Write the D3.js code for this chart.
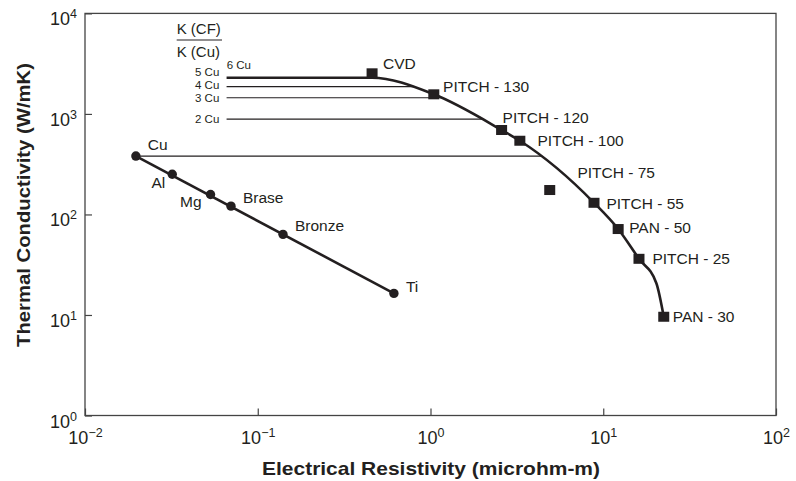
<!DOCTYPE html>
<html><head><meta charset="utf-8">
<script src="https://cdn.jsdelivr.net/npm/d3@7"></script>
<style>
html,body{margin:0;padding:0;background:#fff;}
svg text{font-family:"Liberation Sans",Arial,Helvetica,sans-serif;fill:#231f20;}
</style></head>
<body><svg id="c" width="796" height="481"></svg>
<script>
// ---- data ----
const xTicks = [1e-2, 1e-1, 1, 1e1, 1e2];
const xTickExp = ["\u22122", "\u22121", "0", "1", "2"];
const yTicks = [1, 10, 100, 1000, 10000];
const yTickExp = ["0", "1", "2", "3", "4"];

const metalNames = ["Cu", "Al", "Mg", "Brase", "Bronze", "Ti"];
const metalRho = [0.0197, 0.032, 0.0533, 0.070, 0.140, 0.614];
const metalK = [381, 251, 158, 121, 63.4, 16.4];

const cfNames = ["CVD", "PITCH - 130", "PITCH - 120", "PITCH - 100", "PITCH - 75", "PITCH - 55", "PAN - 50", "PITCH - 25", "PAN - 30"];
const cfRho = [0.459, 1.045, 2.58, 3.29, 4.90, 8.84, 12.2, 16.1, 22.4];
const cfK = [2535, 1567, 692, 541, 175, 130.6, 71.6, 36.2, 9.6];

// carbon-fibre trend curve knots
const curveRho = [0.066, 0.459, 1.045, 2.58, 3.29, 8.84, 12.2, 16.1, 20.3, 22.4];
const curveK = [2290, 2290, 1567, 692, 541, 130.6, 71.6, 36.2, 20.7, 9.6];

// multiples of copper conductivity
const multLabels = ["6 Cu", "5 Cu", "4 Cu", "3 Cu", "2 Cu"];
const multK = [2290, 2290, 1866, 1449, 889];
const refLineK = [1866, 1449, 889];
const refLineStart = 0.066;

// ---- layout / style ----
const L = 85, R = 776, T = 13.4, B = 415.5;
const svg = d3.select("#c");
const x = d3.scaleLog().domain([1e-2, 1e2]).range([L, R]);
const y = d3.scaleLog().domain([1, 1e4]).range([B, T]);
const ink = "#231f20";

const metalLabelPos = [
  {dx: 12, dy: -6, a: "start"}, {dx: -7, dy: 14, a: "end"}, {dx: -9, dy: 12.5, a: "end"},
  {dx: 12, dy: -3.5, a: "start"}, {dx: 12, dy: -3.5, a: "start"}, {dx: 12, dy: -1.5, a: "start"}];
const cfLabelPos = [
  {dx: 11, dy: -4.3}, {dx: 9.3, dy: -2.6}, {dx: 1, dy: -7.3}, {dx: 17.7, dy: 5.3},
  {dx: 27.7, dy: -12.3}, {dx: 12.4, dy: 6}, {dx: 11, dy: 4.3}, {dx: 13.4, dy: 5.6}, {dx: 9, dy: 5.6}];
const multLabelPos = [
  {x: 226.7, dy: -8.7, a: "start"}, {x: 219.3, dy: -1.4, a: "end"},
  {x: 219.3, dy: 2.6, a: "end"}, {x: 219.3, dy: 4, a: "end"}, {x: 219.3, dy: 4.3, a: "end"}];

// ---- axes ----
const gx = svg.append("g").attr("transform", `translate(0,${B})`)
  .call(d3.axisBottom(x).tickValues(xTicks).tickSizeInner(-7).tickSizeOuter(0).tickFormat(""));
gx.select(".domain").remove();
gx.selectAll(".tick line").attr("stroke", "#444").attr("stroke-width", 1.2);
gx.selectAll(".tick").each(function(d, i) {
  const t = d3.select(this).append("text").attr("y", 28).attr("text-anchor", "middle")
    .attr("font-size", 18).attr("fill", ink);
  t.append("tspan").text("10");
  t.append("tspan").attr("dy", -7).attr("font-size", 12.5).text(xTickExp[i]);
});

const gy = svg.append("g").attr("transform", `translate(${L},0)`)
  .call(d3.axisLeft(y).tickValues(yTicks).tickSizeInner(-7).tickSizeOuter(0).tickFormat(""));
gy.select(".domain").remove();
gy.selectAll(".tick line").attr("stroke", "#444").attr("stroke-width", 1.2);
gy.selectAll(".tick").each(function(d, i) {
  const t = d3.select(this).append("text").attr("x", -8).attr("y", 11.5).attr("text-anchor", "end")
    .attr("font-size", 18).attr("fill", ink);
  t.append("tspan").text("10");
  t.append("tspan").attr("dy", -7).attr("font-size", 12.5).text(yTickExp[i]);
});

svg.append("rect").attr("x", L).attr("y", T).attr("width", R - L).attr("height", B - T)
  .attr("fill", "none").attr("stroke", "#444").attr("stroke-width", 1.3);

svg.append("text").attr("x", (L + R) / 2 + 0.5).attr("y", 475).attr("text-anchor", "middle")
  .attr("font-size", 19).attr("font-weight", "bold")
  .attr("textLength", 338).attr("lengthAdjust", "spacingAndGlyphs")
  .text("Electrical Resistivity (microhm-m)");
svg.append("text").attr("transform", "translate(29.5,205) rotate(-90)").attr("text-anchor", "middle")
  .attr("font-size", 19).attr("font-weight", "bold")
  .attr("textLength", 284).attr("lengthAdjust", "spacingAndGlyphs")
  .text("Thermal Conductivity (W/mK)");

// ---- carbon fibre curve ----
const curvePts = curveRho.map((r, i) => [x(r), y(curveK[i])]);
const curvePath = svg.append("path").attr("d", d3.line().curve(d3.curveMonotoneX)(curvePts))
  .attr("fill", "none").attr("stroke", ink).attr("stroke-width", 2.6);

const pNode = curvePath.node();
const total = pNode.getTotalLength();
function curveXAt(py) {
  let prev = pNode.getPointAtLength(0);
  for (let s = 0.5; s <= total; s += 0.5) {
    const p = pNode.getPointAtLength(s);
    if (p.y >= py) {
      const f = (py - prev.y) / ((p.y - prev.y) || 1);
      return prev.x + f * (p.x - prev.x);
    }
    prev = p;
  }
  return prev.x;
}

refLineK.forEach(k => {
  svg.append("line").attr("x1", x(refLineStart)).attr("x2", curveXAt(y(k)))
    .attr("y1", y(k)).attr("y2", y(k)).attr("stroke", ink).attr("stroke-width", 1.2);
});
svg.append("line").attr("x1", x(metalRho[0])).attr("x2", curveXAt(y(metalK[0])))
  .attr("y1", y(metalK[0])).attr("y2", y(metalK[0])).attr("stroke", ink).attr("stroke-width", 1.2);

multLabels.forEach((s, i) => {
  const p = multLabelPos[i];
  svg.append("text").attr("x", p.x).attr("y", y(multK[i]) + p.dy).attr("text-anchor", p.a)
    .attr("font-size", 11.5).text(s);
});

svg.append("text").attr("x", 176.7).attr("y", 34.3).attr("font-size", 15).text("K (CF)");
svg.append("line").attr("x1", 176.7).attr("x2", 222).attr("y1", 40).attr("y2", 40)
  .attr("stroke", ink).attr("stroke-width", 1);
svg.append("text").attr("x", 176.7).attr("y", 56.7).attr("font-size", 15).text("K (Cu)");

// ---- metals ----
svg.append("line").attr("x1", x(metalRho[0])).attr("y1", y(metalK[0]))
  .attr("x2", x(metalRho[metalRho.length - 1])).attr("y2", y(metalK[metalK.length - 1]))
  .attr("stroke", ink).attr("stroke-width", 2.6);
metalRho.forEach((r, i) => {
  svg.append("circle").attr("cx", x(r)).attr("cy", y(metalK[i])).attr("r", 4.7).attr("fill", ink);
  const p = metalLabelPos[i];
  svg.append("text").attr("x", x(r) + p.dx).attr("y", y(metalK[i]) + p.dy).attr("text-anchor", p.a)
    .attr("font-size", 15.5).text(metalNames[i]);
});

// ---- carbon fibres ----
const sq = 11;
cfRho.forEach((r, i) => {
  svg.append("rect").attr("x", x(r) - sq / 2).attr("y", y(cfK[i]) - sq / 2 + 0.5)
    .attr("width", sq).attr("height", sq - 1).attr("fill", ink);
  const p = cfLabelPos[i];
  svg.append("text").attr("x", x(r) + p.dx).attr("y", y(cfK[i]) + p.dy)
    .attr("font-size", 15.5).text(cfNames[i]);
});
</script></body></html>
